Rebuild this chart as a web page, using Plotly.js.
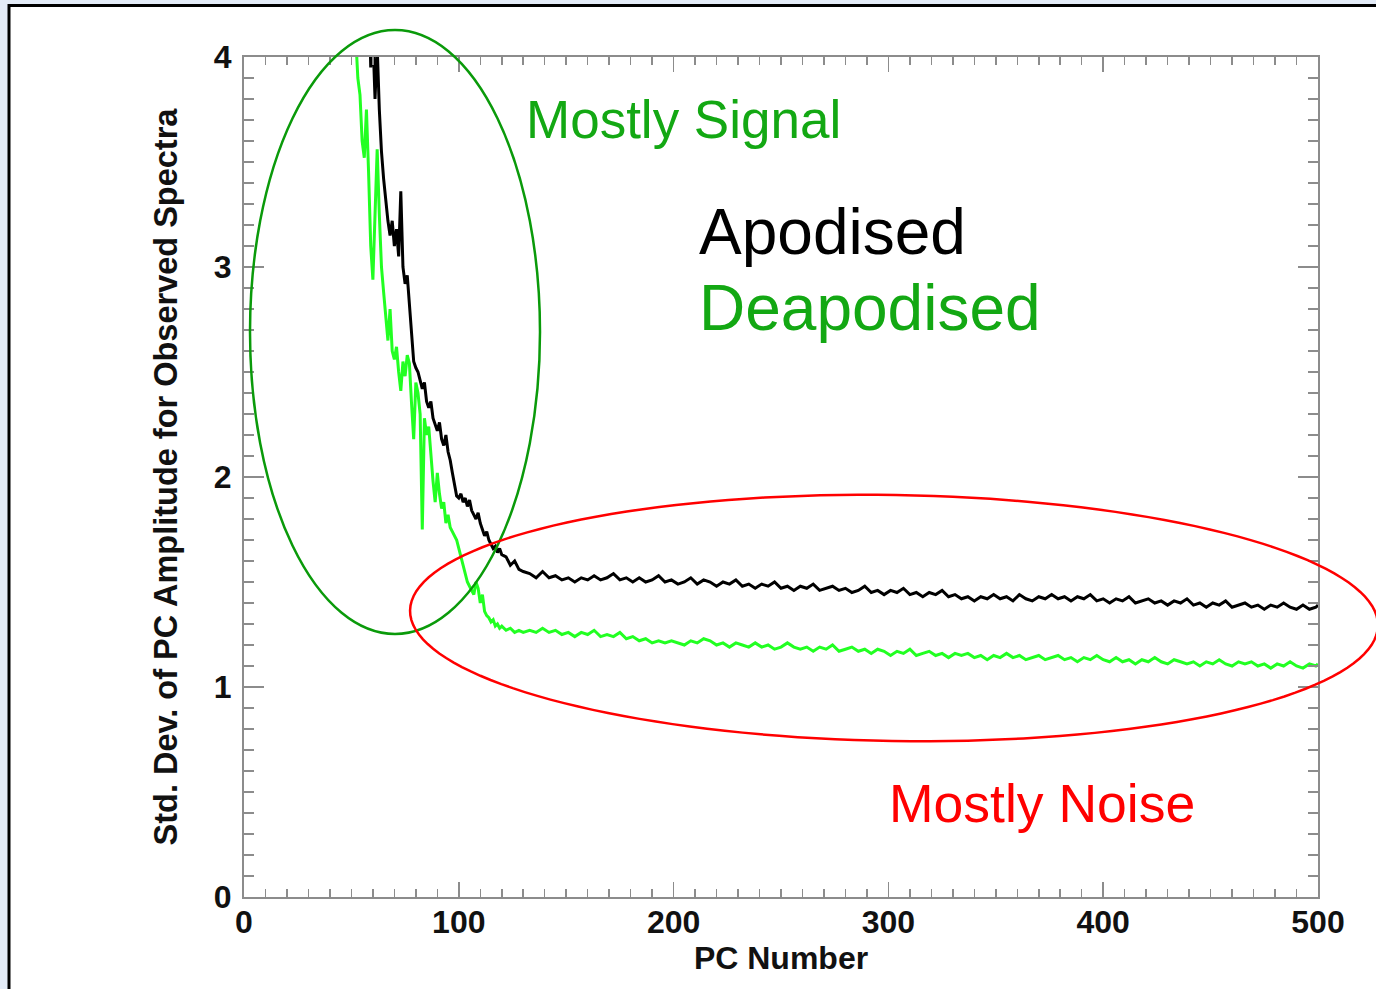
<!DOCTYPE html>
<html>
<head>
<meta charset="utf-8">
<script src="https://cdn.plot.ly/plotly-3.0.1.min.js"></script>
<style>
html,body{margin:0;padding:0;background:#e3ebf7;}
#chart{width:1376px;height:989px;}
</style>
</head>
<body>
<div id="chart"></div>
<script>
// PC numbers and std. dev. values, Apodised (black)
const pcApod = [56,57,58,59,60,61,62,63,64,65,66,67,68,69,70,71,72,73,74,75,76,77,78,79,80,81,82,83,84,85,86,87,88,89,90,91,92,93,94,95,96,97,98,99,100,101,102,103,104,105,106,107,108,109,110,111,112,113,114,115,116,117,118,119,120,122,124,126,128,130,
133,136,139,142,145,148,151,154,157,160,163,166,169,172,175,178,181,184,187,190,193,196,199,202,205,208,211,214,217,220,223,226,229,232,235,238,241,244,247,250,253,256,259,262,265,268,271,274,277,280,283,286,289,292,295,298,301,304,307,310,313,316,319,322,325,328,331,334,337,340,343,346,349,352,355,358,361,364,367,370,373,376,379,382,385,388,391,394,397,400,403,406,409,412,415,418,421,424,427,430,433,436,439,442,445,448,451,454,457,460,463,466,469,472,475,478,481,484,487,490,493,496,499,500];
const sdApod = [4.8,4.6,4.4,3.95,4.1,3.80,4.05,3.75,3.55,3.42,3.30,3.22,3.15,3.22,3.10,3.18,3.05,3.36,3.00,2.92,2.96,2.82,2.68,2.55,2.52,2.50,2.46,2.42,2.45,2.36,2.33,2.36,2.28,2.25,2.22,2.26,2.18,2.15,2.20,2.12,2.08,2.02,1.96,1.91,1.90,1.92,1.88,1.90,1.86,1.89,1.84,1.82,1.80,1.83,1.78,1.75,1.72,1.74,1.70,1.68,1.66,1.67,1.64,1.66,1.63,1.62,1.58,1.60,1.56,1.55,
1.54,1.52,1.55,1.52,1.53,1.51,1.52,1.50,1.52,1.51,1.53,1.51,1.52,1.54,1.51,1.52,1.50,1.52,1.50,1.51,1.53,1.50,1.51,1.49,1.50,1.52,1.49,1.51,1.50,1.48,1.50,1.49,1.51,1.48,1.49,1.47,1.49,1.48,1.50,1.47,1.48,1.46,1.48,1.47,1.49,1.46,1.47,1.48,1.46,1.47,1.45,1.46,1.48,1.45,1.46,1.44,1.46,1.45,1.47,1.44,1.45,1.43,1.45,1.44,1.46,1.43,1.44,1.42,1.43,1.41,1.43,1.42,1.44,1.42,1.43,1.41,1.44,1.42,1.41,1.43,1.42,1.44,1.42,1.43,1.41,1.43,1.42,1.44,1.41,1.42,1.40,1.42,1.41,1.43,1.40,1.41,1.42,1.40,1.41,1.39,1.41,1.40,1.42,1.39,1.40,1.38,1.40,1.39,1.41,1.38,1.39,1.40,1.38,1.39,1.37,1.39,1.38,1.40,1.38,1.37,1.39,1.37,1.38,1.39];

// Deapodised (green)
const pcDeapod = [50,52,53,54,55,56,57,58,59,60,61,62,63,64,65,66,67,68,69,70,71,72,73,74,75,76,77,78,79,80,81,82,83,84,85,86,87,88,89,90,91,92,93,94,95,96,97,98,99,100,101,102,103,104,105,106,107,108,109,110,111,112,113,114,115,116,117,118,119,120,122,124,126,128,130,
133,136,139,142,145,148,151,154,157,160,163,166,169,172,175,178,181,184,187,190,193,196,199,202,205,208,211,214,217,220,223,226,229,232,235,238,241,244,247,250,253,256,259,262,265,268,271,274,277,280,283,286,289,292,295,298,301,304,307,310,313,316,319,322,325,328,331,334,337,340,343,346,349,352,355,358,361,364,367,370,373,376,379,382,385,388,391,394,397,400,403,406,409,412,415,418,421,424,427,430,433,436,439,442,445,448,451,454,457,460,463,466,469,472,475,478,481,484,487,490,493,496,499,500];
const sdDeapod = [4.5,4.05,3.90,3.82,3.60,3.52,3.75,3.45,3.10,2.94,3.30,3.56,3.25,3.00,2.88,2.75,2.65,2.80,2.60,2.56,2.62,2.50,2.41,2.55,2.48,2.58,2.54,2.35,2.18,2.45,2.40,2.30,1.75,2.28,2.20,2.24,2.10,1.98,1.88,2.02,1.92,1.85,1.88,1.78,1.82,1.76,1.74,1.72,1.70,1.66,1.62,1.59,1.55,1.50,1.48,1.46,1.44,1.50,1.47,1.40,1.44,1.36,1.34,1.33,1.31,1.32,1.29,1.30,1.28,1.29,1.27,1.28,1.26,1.27,1.26,
1.27,1.26,1.28,1.26,1.27,1.25,1.26,1.24,1.26,1.25,1.27,1.24,1.25,1.24,1.26,1.23,1.24,1.22,1.23,1.21,1.22,1.21,1.22,1.21,1.20,1.22,1.21,1.23,1.22,1.20,1.21,1.19,1.21,1.20,1.19,1.21,1.19,1.20,1.18,1.19,1.21,1.19,1.18,1.19,1.17,1.19,1.18,1.20,1.17,1.18,1.19,1.17,1.18,1.16,1.18,1.17,1.15,1.17,1.16,1.18,1.15,1.16,1.17,1.15,1.16,1.14,1.16,1.15,1.16,1.14,1.15,1.13,1.15,1.14,1.16,1.14,1.15,1.13,1.14,1.15,1.13,1.14,1.15,1.13,1.14,1.12,1.14,1.13,1.15,1.13,1.12,1.14,1.12,1.13,1.11,1.13,1.12,1.14,1.12,1.11,1.13,1.12,1.11,1.12,1.10,1.12,1.11,1.13,1.11,1.10,1.12,1.11,1.12,1.10,1.11,1.09,1.11,1.10,1.12,1.10,1.09,1.11,1.10,1.11];

const xTicks = [0,100,200,300,400,500];
const yTicks = [0,1,2,3,4];

// layout geometry (pixels)
const W = 1376, H = 989;
const mL = 244, mR = 58, mT = 57, mB = 92;
const pw = W - mL - mR, ph = H - mT - mB;
const px2x = p => (p - mL) / pw;
const py2y = p => (H - mB - p) / ph;

// rotated red ellipse path (paper coords)
function ellipsePath(cx, cy, rx, ry, deg) {
  const th = deg * Math.PI / 180;
  let d = '';
  for (let i = 0; i <= 160; i++) {
    const t = i / 160 * 2 * Math.PI;
    const X = cx + rx * Math.cos(t) * Math.cos(th) - ry * Math.sin(t) * Math.sin(th);
    const Y = cy + rx * Math.cos(t) * Math.sin(th) + ry * Math.sin(t) * Math.cos(th);
    d += (i === 0 ? 'M' : 'L') + px2x(X).toFixed(5) + ',' + py2y(Y).toFixed(5);
  }
  return d + 'Z';
}

const FONT = '"Liberation Sans", Arial, Helvetica, sans-serif';
const axisCommon = {
  showgrid: false, zeroline: false,
  showline: true, linecolor: '#8c8c8c', linewidth: 2, mirror: 'ticks',
  ticks: 'inside', tickcolor: '#8c8c8c', tickwidth: 1.5,
  tickfont: {family: FONT, size: 32, color: '#111', weight: 'bold'},
};

const traces = [
  {x: pcApod, y: sdApod, type: 'scatter', mode: 'lines', name: 'Apodised',
   line: {color: '#000000', width: 3}},
  {x: pcDeapod, y: sdDeapod, type: 'scatter', mode: 'lines', name: 'Deapodised',
   line: {color: '#22ff22', width: 3}}
];

const layout = {
  width: W, height: H,
  margin: {l: mL, r: mR, t: mT, b: mB},
  paper_bgcolor: '#e3ebf7',
  plot_bgcolor: 'rgba(0,0,0,0)',
  showlegend: false,
  xaxis: Object.assign({}, axisCommon, {
    range: [0, 500], tickmode: 'array', tickvals: xTicks, ticktext: xTicks.map(String),
    ticklen: 15, ticklabelstandoff: -4,
    minor: {dtick: 10, ticks: 'inside', ticklen: 8, tickcolor: '#8c8c8c', tickwidth: 1.5},
    title: {text: 'PC Number', font: {family: FONT, size: 32, color: '#111', weight: 'bold'}, standoff: 0}
  }),
  yaxis: Object.assign({}, axisCommon, {
    range: [0, 4], tickmode: 'array', tickvals: yTicks, ticktext: yTicks.map(String),
    ticklen: 20, ticklabelstandoff: 4,
    minor: {dtick: 0.1, ticks: 'inside', ticklen: 10, tickcolor: '#8c8c8c', tickwidth: 1.5},
    title: {text: 'Std. Dev. of PC Amplitude for Observed Spectra', font: {family: FONT, size: 32.5, color: '#111', weight: 'bold'}, standoff: 26}
  }),
  shapes: [
    {type: 'rect', xref: 'paper', yref: 'paper', layer: 'below',
     x0: px2x(9), x1: px2x(1400), y0: py2y(1010), y1: py2y(5.5),
     fillcolor: '#ffffff', line: {color: '#000000', width: 3}},
    {type: 'circle', xref: 'paper', yref: 'paper', layer: 'above',
     x0: px2x(250), x1: px2x(540), y0: py2y(634), y1: py2y(30),
     line: {color: '#0a9a0a', width: 2.5}},
    {type: 'path', xref: 'paper', yref: 'paper', layer: 'above',
     path: ellipsePath(894, 618, 484, 123, 0.9),
     line: {color: '#ff0000', width: 2.5}}
  ],
  annotations: [
    {text: 'Mostly Signal', xref: 'paper', yref: 'paper', x: px2x(524), y: py2y(120),
     xanchor: 'left', yanchor: 'middle', showarrow: false,
     font: {family: FONT, size: 53, color: '#13a813'}},
    {text: 'Apodised', xref: 'paper', yref: 'paper', x: px2x(697), y: py2y(232),
     xanchor: 'left', yanchor: 'middle', showarrow: false,
     font: {family: FONT, size: 64, color: '#000000'}},
    {text: 'Deapodised', xref: 'paper', yref: 'paper', x: px2x(697), y: py2y(308),
     xanchor: 'left', yanchor: 'middle', showarrow: false,
     font: {family: FONT, size: 64, color: '#13a813'}},
    {text: 'Mostly Noise', xref: 'paper', yref: 'paper', x: px2x(887), y: py2y(803),
     xanchor: 'left', yanchor: 'middle', showarrow: false,
     font: {family: FONT, size: 53.5, color: '#ff0000'}}
  ]
};

Plotly.newPlot('chart', traces, layout, {displayModeBar: false, staticPlot: true});
</script>
</body>
</html>
